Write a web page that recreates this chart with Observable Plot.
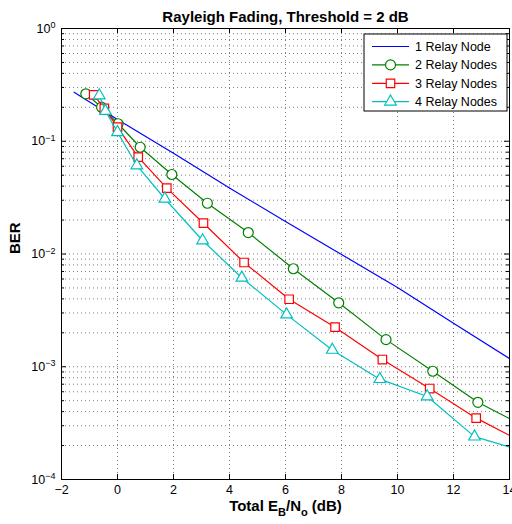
<!DOCTYPE html>
<html><head><meta charset="utf-8">
<script src="https://cdn.jsdelivr.net/npm/d3@7"></script>
<script src="https://cdn.jsdelivr.net/npm/@observablehq/plot@0.6"></script>
<style>body{margin:0;background:#fff}</style>
</head><body><div id="chart"></div>
<script>
const titleText = "Rayleigh Fading, Threshold = 2 dB";
const xLabelText = "Total E_B/N_o (dB)";
const yLabelText = "BER";
const seriesNames = ["1 Relay Node", "2 Relay Nodes", "3 Relay Nodes", "4 Relay Nodes"];
const seriesColors = ["#0000ff", "#008000", "#ff0000", "#00bfbf"];
const seriesSymbols = [null, "circle", "square", "triangle"];

const x1 = [-1.55, 0, 2, 4, 6, 8, 10, 12, 14];
const ber1 = [0.272, 0.156, 0.0783, 0.0385, 0.0194, 0.0099, 0.00505, 0.00243, 0.00118];

const x2 = [-1.13, -0.57, 0.02, 0.81, 1.94, 3.21, 4.67, 6.28, 7.90, 9.59, 11.26, 12.87, 14.45];
const ber2 = [0.2636, 0.2004, 0.1429, 0.0885, 0.0507, 0.0282, 0.0155, 0.0074, 0.00369, 0.00174, 0.000912, 0.000484, 0.000303];

const x3 = [-0.85, -0.47, 0.0, 0.74, 1.76, 3.07, 4.52, 6.13, 7.77, 9.46, 11.15, 12.81, 14.4];
const ber3 = [0.2582, 0.1959, 0.1334, 0.0723, 0.0384, 0.01875, 0.00841, 0.00397, 0.002244, 0.001159, 0.000641, 0.00035, 0.000219];

const x4 = [-0.65, -0.43, 0.0, 0.69, 1.69, 3.04, 4.44, 6.04, 7.67, 9.37, 11.06, 12.75, 14.35];
const ber4 = [0.2547, 0.1854, 0.1202, 0.0610, 0.0309, 0.01318, 0.00615, 0.0029, 0.00141, 0.000776, 0.000545, 0.00024, 0.000183];

const xTicks = [-2, 0, 2, 4, 6, 8, 10, 12, 14];
const yMajor = [1e-4, 1e-3, 1e-2, 1e-1, 1];
const yTickLabels = ["10^-4", "10^-3", "10^-2", "10^-1", "10^0"];
const yMinor = [];
for (let k = -4; k < 0; k++) for (let m = 2; m <= 9; m++) yMinor.push(m * Math.pow(10, k));

const W = 512, H = 524, mL = 61, mR = 3, mT = 28, mB = 45;
const pW = W - mL - mR, pH = H - mT - mB;

const seriesX = [x1, x2, x3, x4];
const seriesY = [ber1, ber2, ber3, ber4];
const tables = seriesX.map((xs, i) => xs.map((x, j) => ({x, y: seriesY[i][j]})));

const gridStyle = {stroke: "#000", strokeOpacity: 0.5, strokeDasharray: "1,3", strokeWidth: 1};
const font = "Liberation Sans, Arial, Helvetica, sans-serif";

const marks = [
  Plot.gridX(xTicks.slice(1, -1), gridStyle),
  Plot.gridY(yMajor.slice(1, -1).concat(yMinor), gridStyle),
];
tables.forEach((t, i) => {
  marks.push(Plot.line(t, {x: "x", y: "y", stroke: seriesColors[i], strokeWidth: 1.2, clip: true}));
  if (seriesSymbols[i]) {
    const r = seriesSymbols[i] === "circle" ? 5 : seriesSymbols[i] === "square" ? 4.8 : 4.3;
    marks.push(Plot.dot(t, {x: "x", y: "y", symbol: () => seriesSymbols[i], r, stroke: seriesColors[i], fill: "white", strokeWidth: 1.2, clip: true}));
  }
});
marks.push(
  Plot.frame({stroke: "#000", strokeWidth: 1}),
  Plot.tickY(yMajor, {insetRight: pW - 5, stroke: "#000"}),
  Plot.tickY(yMajor, {insetLeft: pW - 5, stroke: "#000"}),
  Plot.tickY(yMinor, {insetRight: pW - 3, stroke: "#000"}),
  Plot.tickY(yMinor, {insetLeft: pW - 3, stroke: "#000"}),
  Plot.tickX(xTicks, {insetTop: pH - 5, stroke: "#000"}),
  Plot.tickX(xTicks, {insetBottom: pH - 5, stroke: "#000"}),
  Plot.axisX({ticks: xTicks, tickSize: 0, tickPadding: 6, label: null, fontSize: 12.5,
    tickFormat: d => d < 0 ? "\u2212" + (-d) : String(d)}),
  Plot.axisY({ticks: yMajor, tickSize: 0, tickPadding: 6, label: null, fontSize: 12.5,
    tickFormat: d => yTickLabels[yMajor.indexOf(d)]}),
  Plot.text([titleText], {frameAnchor: "top", dy: -7, lineAnchor: "bottom", fontSize: 15, fontWeight: "bold", fill: "#000"}),
  Plot.text([yLabelText], {frameAnchor: "left", dx: -46, rotate: -90, fontSize: 15, fontWeight: "bold", fill: "#000"}),
  Plot.text([xLabelText], {frameAnchor: "bottom", dy: 31, lineAnchor: "bottom", fontSize: 15, fontWeight: "bold", fill: "#000"})
);

const chart = Plot.plot({
  width: W, height: H,
  marginLeft: mL, marginRight: mR, marginTop: mT, marginBottom: mB,
  x: {domain: [-2, 14]},
  y: {type: "log", domain: [1e-4, 1]},
  style: {fontFamily: font, fontSize: "12.5px", color: "#000", background: "#fff"},
  marks
});
document.getElementById("chart").appendChild(chart);

const svg = d3.select(chart);
// superscript exponents on y tick labels
svg.selectAll('g[aria-label="y-axis tick label"] text').each(function() {
  const t = d3.select(this);
  const s = t.text();
  const [base, exp] = s.split("^");
  t.text(null);
  t.append("tspan").text(base);
  t.append("tspan").attr("dy", "-0.5em").attr("font-size", "9px").text(exp.replace("-", "\u2212"));
});
// subscripts on x label
svg.selectAll("text").filter(function() { return this.textContent === xLabelText; }).each(function() {
  const t = d3.select(this);
  t.text(null);
  const parts = [["Total E", 0], ["B", 1], ["/N", 0], ["o", 1], [" (dB)", 0]];
  let prevSub = false;
  parts.forEach(([txt, sub]) => {
    const ts = t.append("tspan").text(txt);
    if (sub && !prevSub) ts.attr("dy", "5").attr("font-size", "11px");
    else if (!sub && prevSub) ts.attr("dy", "-5");
    prevSub = !!sub;
  });
});
// legend
const lg = svg.append("g").attr("font-family", font).attr("font-size", "12.5px").attr("text-anchor", "start");
lg.append("rect").attr("x", 364).attr("y", 34).attr("width", 143).attr("height", 77)
  .attr("fill", "#fff").attr("stroke", "#000").attr("stroke-width", 1);
seriesNames.forEach((name, i) => {
  const cy = 46.5 + 18.4 * i;
  lg.append("line").attr("x1", 372).attr("x2", 409).attr("y1", cy).attr("y2", cy)
    .attr("stroke", seriesColors[i]).attr("stroke-width", 1.2);
  if (seriesSymbols[i]) {
    const r = seriesSymbols[i] === "circle" ? 5 : seriesSymbols[i] === "square" ? 4.8 : 4.3;
    const sym = seriesSymbols[i] === "circle" ? d3.symbolCircle : seriesSymbols[i] === "square" ? d3.symbolSquare : d3.symbolTriangle;
    lg.append("path").attr("transform", `translate(390.5,${cy})`)
      .attr("d", d3.symbol(sym, Math.PI * r * r)())
      .attr("fill", "#fff").attr("stroke", seriesColors[i]).attr("stroke-width", 1.2);
  }
  lg.append("text").attr("x", 415).attr("y", cy).attr("dy", "0.35em").attr("text-anchor", "start").attr("fill", "#000").text(name);
});
</script>
</body></html>
